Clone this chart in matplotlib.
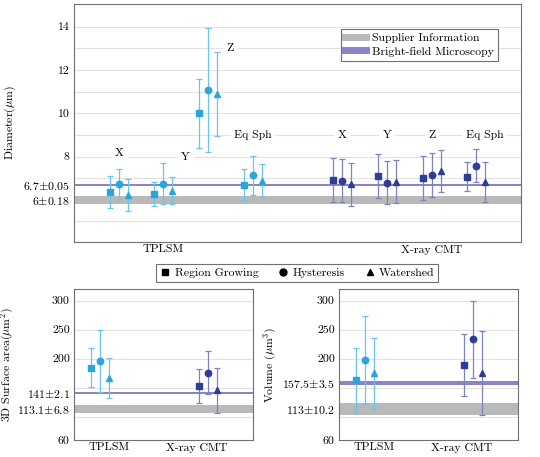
import matplotlib
matplotlib.use("Agg")
import matplotlib.pyplot as plt
from matplotlib.lines import Line2D
import numpy as np

plt.rcParams['font.family'] = ['cmr10', 'DejaVu Serif']
plt.rcParams['mathtext.fontset'] = 'cm'
plt.rcParams['axes.formatter.use_mathtext'] = True
plt.rcParams['font.size'] = 8.5

# ---- data -------------------------------------------------------------
axes_names = ['X', 'Y', 'Z', 'Eq Sph']

# diameter (um), mean and +/- error, one value per axis
tplsm_rg = [6.36, 6.28, 9.99, 6.70]
tplsm_rg_err = [0.75, 0.55, 1.60, 0.72]
tplsm_hy = [6.75, 6.74, 11.07, 7.13]
tplsm_hy_err = [0.69, 0.95, 2.87, 0.89]
tplsm_ws = [6.23, 6.43, 10.90, 6.88]
tplsm_ws_err = [0.75, 0.61, 1.94, 0.77]

ct_rg = [6.92, 7.10, 7.00, 7.07]
ct_rg_err = [1.03, 1.01, 1.03, 0.67]
ct_hy = [6.88, 6.80, 7.14, 7.58]
ct_hy_err = [1.00, 0.99, 1.01, 0.77]
ct_ws = [6.71, 6.84, 7.32, 6.82]
ct_ws_err = [0.98, 1.00, 0.97, 0.93]

# surface area (um^2): [TPLSM, X-ray CMT]
surf_rg = [184.5, 153.2]
surf_rg_err = [34, 29]
surf_hy = [195.5, 176.0]
surf_hy_err = [53.5, 37]
surf_ws = [167.0, 145.5]
surf_ws_err = [35, 39]

# volume (um^3): [TPLSM, X-ray CMT]
vol_rg = [163.0, 189.2]
vol_rg_err = [56, 54]
vol_hy = [197.8, 233.8]
vol_hy_err = [75.5, 66.2]
vol_ws = [175.5, 175.5]
vol_ws_err = [60, 72]

# reference values: (mean, error)
diam_supplier = (6.0, 0.18)
diam_bright = (6.7, 0.05)
surf_supplier = (113.1, 6.8)
surf_bright = (141.0, 2.1)
vol_supplier = (113.0, 10.2)
vol_bright = (157.5, 3.5)

# ---- style ------------------------------------------------------------
c_tplsm = '#2aa6de'
c_tplsm_err = '#6cc4ea'
c_ct = '#2e3d96'
c_ct_err = '#7d82c2'
c_gray = '#b9b9b9'
c_purple = '#8c84c8'
c_grid = '#e2e2e2'
c_frame = '#707070'
markers = ['s', 'o', '^']
msizes = [4.2, 4.6, 3.8]
fs = 8.5


def style_axes(ax):
    for s in ax.spines.values():
        s.set_color(c_frame)
        s.set_linewidth(0.8)
    ax.tick_params(axis='y', length=0, pad=3)
    ax.tick_params(axis='x', length=0, pad=2)


def draw_points(ax, x, ys, errs, color, ecolor):
    for k in range(3):
        ax.errorbar(np.asarray(x) + offsets[k], ys[k], yerr=errs[k], fmt=markers[k],
                    ms=msizes[k], color=color, ecolor=ecolor, elinewidth=0.9,
                    capsize=2.2, capthick=0.9, zorder=4)


fig = plt.figure(figsize=(5.4, 4.57), dpi=100)
W, H = 540.0, 457.0


def add_ax(x0, x1, y0, y1):
    return fig.add_axes([x0 / W, 1 - y1 / H, (x1 - x0) / W, (y1 - y0) / H])


# ---- top: diameter ----------------------------------------------------
ax = add_ax(74, 521, 4, 242)
style_axes(ax)
offsets = [-0.2, 0.0, 0.2]
x_tplsm = [1, 2, 3, 4]
x_ct = [6, 7, 8, 9]
for v in [5, 6, 7, 8, 9, 10, 11, 12, 13, 14]:
    ax.axhline(v, color=c_grid, lw=0.8, zorder=0)
ax.axhspan(diam_supplier[0] - diam_supplier[1], diam_supplier[0] + diam_supplier[1],
           color=c_gray, lw=0, zorder=1)
ax.axhspan(diam_bright[0] - diam_bright[1], diam_bright[0] + diam_bright[1],
           color=c_purple, lw=0, zorder=2)
draw_points(ax, x_tplsm, [tplsm_rg, tplsm_hy, tplsm_ws],
            [tplsm_rg_err, tplsm_hy_err, tplsm_ws_err], c_tplsm, c_tplsm_err)
draw_points(ax, x_ct, [ct_rg, ct_hy, ct_ws],
            [ct_rg_err, ct_hy_err, ct_ws_err], c_ct, c_ct_err)

label_pos_tplsm = [(1, 8.17), (2.5, 7.95), (3.5, 13.0), (4, 9.0)]
label_pos_ct = [(6, 9.0), (7, 9.0), (8, 9.0), (9.18, 9.0)]
for name, (lx, ly) in zip(axes_names, label_pos_tplsm):
    ax.text(lx, ly, name, ha='center', va='center', fontsize=fs, zorder=3,
            bbox=dict(facecolor='white', edgecolor='none', pad=2.5))
for name, (lx, ly) in zip(axes_names, label_pos_ct):
    ax.text(lx, ly, name, ha='center', va='center', fontsize=fs, zorder=3,
            bbox=dict(facecolor='white', edgecolor='none', pad=2.5))

ax.set_xlim(0, 10)
ax.set_ylim(4.05, 15.05)
ax.set_xticks([2, 8])
ax.set_xticklabels(['TPLSM', 'X-ray CMT'], fontsize=fs)
ax.set_yticks([diam_supplier[0], diam_bright[0], 8, 10, 12, 14])
ax.set_yticklabels([r'$6{\pm}0.18$', r'$6.7{\pm}0.05$', '8', '10', '12', '14'], fontsize=fs)
ax.set_ylabel(r'Diameter($\mathrm{\mu}$m)', fontsize=fs)
ax.yaxis.set_label_coords((18 - 74) / 447, 0.5)

leg = ax.legend(handles=[Line2D([], [], color=c_gray, lw=5),
                         Line2D([], [], color=c_purple, lw=5)],
                labels=['Supplier Information', 'Bright-field Microscopy'],
                loc='upper right', bbox_to_anchor=(0.949, 0.895), fontsize=fs,
                fancybox=False, framealpha=1, edgecolor=c_frame, handlelength=1.8,
                borderpad=0.35, labelspacing=0.25, handletextpad=0.5,
                borderaxespad=0)
leg.get_frame().set_linewidth(0.8)

# ---- bottom panels ----------------------------------------------------
offsets = [-0.083, 0.0, 0.083]


def bottom_panel(x0, x1, vals, errs, supplier, bright, ylabel, sup_lab, bri_lab, lab_x):
    a = add_ax(x0, x1, 289, 440)
    style_axes(a)
    for v in [100, 150, 200, 250, 300]:
        a.axhline(v, color=c_grid, lw=0.8, zorder=0)
    a.axhspan(supplier[0] - supplier[1], supplier[0] + supplier[1],
              color=c_gray, lw=0, zorder=1)
    a.axhspan(bright[0] - bright[1], bright[0] + bright[1],
              color=c_purple, lw=0, zorder=2)
    for k in range(3):
        a.errorbar([1 + offsets[k]], [vals[k][0]], yerr=[errs[k][0]], fmt=markers[k],
                   ms=msizes[k], color=c_tplsm, ecolor=c_tplsm_err, elinewidth=0.9,
                   capsize=2.2, capthick=0.9, zorder=4)
        a.errorbar([2 + offsets[k]], [vals[k][1]], yerr=[errs[k][1]], fmt=markers[k],
                   ms=msizes[k], color=c_ct, ecolor=c_ct_err, elinewidth=0.9,
                   capsize=2.2, capthick=0.9, zorder=4)
    a.set_xlim(0.76, 2.42)
    a.set_ylim(60, 320)
    a.set_xticks([1.09, 1.90])
    a.set_xticklabels(['TPLSM', 'X-ray CMT'], fontsize=fs)
    a.set_yticks([60, supplier[0], bright[0], 200, 250, 300])
    a.set_yticklabels(['60', sup_lab, bri_lab, '200', '250', '300'], fontsize=fs)
    a.set_ylabel(ylabel, fontsize=fs)
    a.yaxis.set_label_coords((lab_x - x0) / (x1 - x0), 0.5)
    return a


bottom_panel(74, 253, [surf_rg, surf_hy, surf_ws], [surf_rg_err, surf_hy_err, surf_ws_err],
             surf_supplier, surf_bright, r'3D Surface area($\mathrm{\mu}$m$^2$)',
             r'$113.1{\pm}6.8$', r'$141{\pm}2.1$', 16)
bottom_panel(339, 518, [vol_rg, vol_hy, vol_ws], [vol_rg_err, vol_hy_err, vol_ws_err],
             vol_supplier, vol_bright, r'Volume ($\mathrm{\mu}$m$^3$)',
             r'$113{\pm}10.2$', r'$157.5{\pm}3.5$', 279)

leg2 = fig.legend(handles=[Line2D([], [], color='black', marker=m, ls='none', ms=5)
                           for m in markers],
                  labels=['Region Growing', 'Hysteresis', 'Watershed'],
                  loc='center', bbox_to_anchor=(297 / W, 1 - 273 / H), ncol=3,
                  fontsize=fs, fancybox=False, framealpha=1, edgecolor=c_frame,
                  handlelength=1.0, handletextpad=0.3, columnspacing=1.6,
                  borderpad=0.3)
leg2.get_frame().set_linewidth(0.8)

fig.savefig('out.png', dpi=100)
